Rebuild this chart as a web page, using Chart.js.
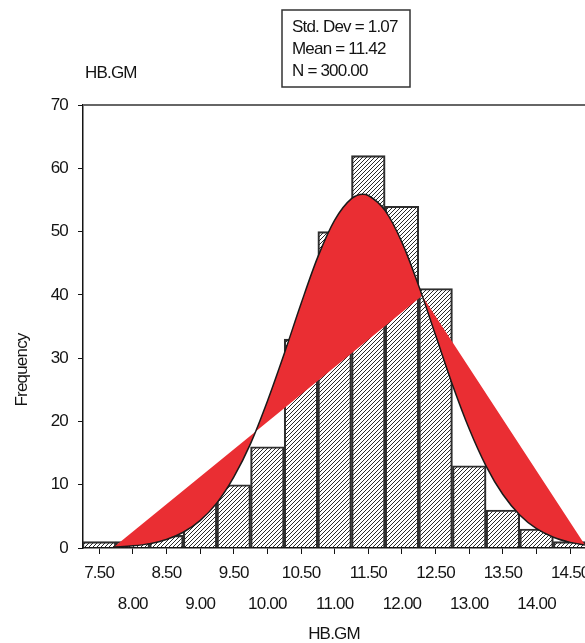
<!DOCTYPE html>
<html>
<head>
<meta charset="utf-8">
<style>
  html, body { margin: 0; padding: 0; background: #fff; }
  #wrap { width: 585px; height: 643px; position: relative; }
</style>
<script src="https://cdn.jsdelivr.net/npm/chart.js@4.4.1/dist/chart.umd.min.js"></script>
</head>
<body>
<div id="wrap"><canvas id="hist"></canvas></div>
<script>
// histogram bins (centre of each 0.5 wide bin) and counts
const binCenters = [7.5, 8.0, 8.5, 9.0, 9.5, 10.0, 10.5, 11.0, 11.5, 12.0, 12.5, 13.0, 13.5, 14.0, 14.5];
const frequencies = [1, 1, 2, 7, 10, 16, 33, 50, 62, 54, 41, 13, 6, 3, 1];

// normal curve
const curveX = [7.72, 8.0, 8.25, 8.5, 8.75, 9.0, 9.25, 9.5, 9.75, 10.0, 10.25, 10.5, 10.75, 11.0, 11.25,
  11.42, 11.5, 11.75, 12.0, 12.25, 12.5, 12.75, 13.0, 13.25, 13.5, 13.75, 14.0, 14.25, 14.5, 14.72];
const curveY = [0.15, 0.34, 0.69, 1.35, 2.49, 4.33, 7.13, 11.2, 16.5, 23.2, 30.7, 38.6, 46.0, 51.8, 55.2,
  55.9, 55.7, 53.3, 48.3, 41.4, 33.6, 25.8, 18.8, 12.95, 8.45, 5.22, 3.05, 1.70, 0.89, 0.48];

// the straight edge the red fill closes against
const edgeX = [7.72, 12.3, 14.72];
const edgeY = [0.15, 39.85, 0.48];

const xTicks = [7.5, 8.0, 8.5, 9.0, 9.5, 10.0, 10.5, 11.0, 11.5, 12.0, 12.5, 13.0, 13.5, 14.0, 14.5];
const xTickLabels = ["7.50", "8.00", "8.50", "9.00", "9.50", "10.00", "10.50", "11.00",
  "11.50", "12.00", "12.50", "13.00", "13.50", "14.00", "14.50"];
const yTicks = [0, 10, 20, 30, 40, 50, 60, 70];

const varName = "HB.GM";
const yTitle = "Frequency";
const statsLines = ["Std. Dev = 1.07", "Mean = 11.42", "N = 300.00"];

const FONT = '"Liberation Sans Narrow", "Arial Narrow", "Liberation Sans", Arial, sans-serif';
const INK = "#141414";
const SQUEEZE = "-0.8px"; // no narrow face installed, tighten the letters instead

const canvas = document.getElementById("hist");
const ctx2d = canvas.getContext("2d");
ctx2d.letterSpacing = SQUEEZE;

const makeHatch = () => {
  const tile = document.createElement("canvas");
  tile.width = 4;
  tile.height = 4;
  const g = tile.getContext("2d");
  g.strokeStyle = "#2a2a2a";
  g.lineWidth = 1;
  g.beginPath();
  g.moveTo(0, 4); g.lineTo(4, 0);
  g.moveTo(-1, 1); g.lineTo(1, -1);
  g.moveTo(3, 5); g.lineTo(5, 3);
  g.stroke();
  return ctx2d.createPattern(tile, "repeat");
};

const annotations = {
  id: "annotations",
  beforeUpdate(chart) {
    chart.ctx.letterSpacing = SQUEEZE;
  },
  beforeDraw(chart) {
    chart.ctx.letterSpacing = SQUEEZE;
  },
  afterDraw(chart) {
    const { ctx, chartArea } = chart;
    ctx.save();
    // grey frame line on top of the plot
    ctx.strokeStyle = "#666";
    ctx.lineWidth = 2;
    ctx.beginPath();
    ctx.moveTo(chartArea.left, chartArea.top);
    ctx.lineTo(chartArea.right, chartArea.top);
    ctx.stroke();

    // stats box
    ctx.strokeStyle = "#333";
    ctx.lineWidth = 1.5;
    ctx.strokeRect(282, 10, 128, 77);
    ctx.fillStyle = INK;
    ctx.font = "17px " + FONT;
    ctx.textBaseline = "middle";
    ctx.textAlign = "left";
    statsLines.forEach((t, i) => ctx.fillText(t, 292, 27 + i * 22));

    // variable name above the plot
    ctx.fillText(varName, 85, 73);

    // y title
    ctx.translate(22, 370);
    ctx.rotate(-Math.PI / 2);
    ctx.textAlign = "center";
    ctx.fillText(yTitle, 0, 0);
    ctx.restore();
  }
};

Chart.defaults.font.family = FONT;
Chart.defaults.font.size = 17;
Chart.defaults.color = INK;

new Chart(canvas, {
  type: "bar",
  data: {
    datasets: [
      {
        type: "line",
        data: curveX.map((x, i) => ({ x: x, y: curveY[i] })),
        borderColor: "#1a1a1a",
        borderWidth: 1.5,
        pointRadius: 0,
        cubicInterpolationMode: "monotone",
        backgroundColor: "#EA2E33",
        fill: 1,
        order: 0,
      },
      {
        type: "line",
        data: edgeX.map((x, i) => ({ x: x, y: edgeY[i] })),
        borderColor: "rgba(0,0,0,0)",
        borderWidth: 0,
        pointRadius: 0,
        fill: false,
        order: 1,
      },
      {
        type: "bar",
        data: binCenters.map((x, i) => ({ x: x, y: frequencies[i] })),
        backgroundColor: makeHatch(),
        borderColor: "#2e2e2e",
        borderWidth: 1.5,
        barPercentage: 1,
        categoryPercentage: 1,
        order: 2,
      },
    ],
  },
  options: {
    responsive: true,
    maintainAspectRatio: false,
    animation: false,
    layout: { padding: { top: 105, left: 0, right: 0, bottom: 0 } },
    plugins: {
      legend: { display: false },
      tooltip: { enabled: false },
    },
    scales: {
      x: {
        type: "linear",
        min: 7.26,
        max: 14.72,
        offset: false,
        afterBuildTicks: (s) => { s.ticks = xTicks.map(v => ({ value: v })); },
        afterFit: (s) => { s.height = 95; s.paddingLeft = 0; s.paddingRight = 0; },
        border: { color: INK, width: 1.5 },
        grid: { drawOnChartArea: false, drawTicks: true, tickLength: 6, color: INK, offset: false },
        ticks: {
          autoSkip: false,
          maxRotation: 0,
          padding: 4,
          font: { size: 17, lineHeight: 1.8 },
          callback: (v, i) => (i % 2 === 0 ? xTickLabels[i] : ["", xTickLabels[i]]),
        },
        title: { display: true, text: varName, font: { size: 17, lineHeight: 1.05 }, padding: 0 },
      },
      y: {
        min: 0,
        max: 70,
        afterBuildTicks: (s) => { s.ticks = yTicks.map(v => ({ value: v })); },
        afterFit: (s) => { s.width = 83; },
        border: { color: INK, width: 1.5 },
        grid: { drawOnChartArea: false, tickLength: 5, color: INK },
        ticks: { padding: 10, font: { size: 17 } },
      },
    },
  },
  plugins: [annotations],
});
</script>
</body>
</html>
